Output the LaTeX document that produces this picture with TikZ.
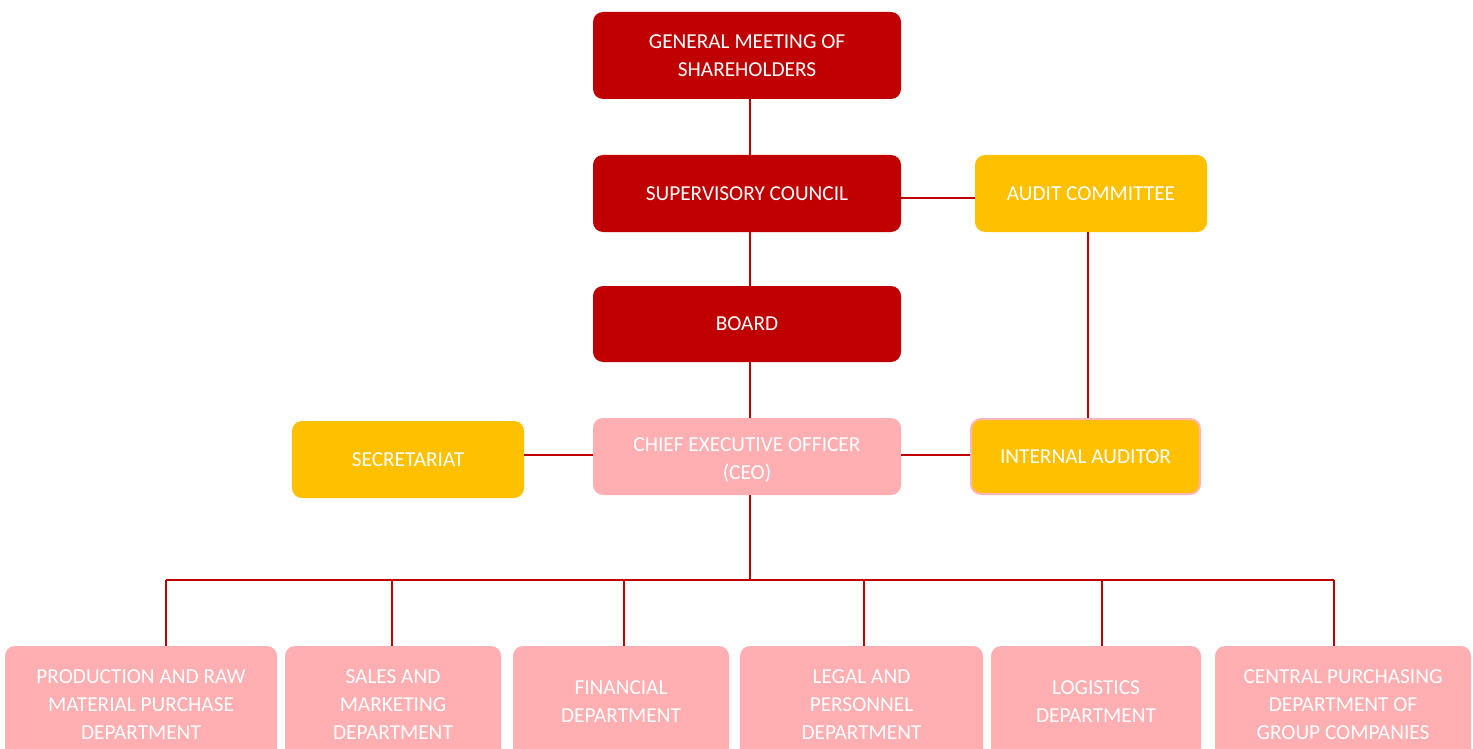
\documentclass[tikz,border=0pt]{standalone}
\usepackage{fontspec}
\setmainfont{Carlito}
\definecolor{cred}{HTML}{C00000}
\definecolor{cyel}{HTML}{FFC000}
\definecolor{cpink}{HTML}{FFAEB1}
\definecolor{cpinkb}{HTML}{FFB6BB}
\definecolor{cline}{HTML}{C00000}
\tikzset{
  txt/.style={inner sep=0pt, align=center, text=white,
    font=\fontsize{21.3}{28}\selectfont},
  box/.style={rounded corners=10pt, txt},
  redbox/.style={box, fill=cred},
  yelbox/.style={box, fill=cyel},
  pinkbox/.style={box, fill=cpink},
  conn/.style={draw=cline, line width=1.1pt},
}
\begin{document}
\begin{tikzpicture}[x=1pt,y=1pt]
\useasboundingbox (0,0) rectangle (1473,-749);
\clip (0,0) rectangle (1473,-749);
% top column
\node[redbox, minimum width=308pt, minimum height=87pt] (gms) at (747,-55.5) {GENERAL MEETING OF\\SHAREHOLDERS};
\node[redbox, minimum width=308pt, minimum height=77pt] (sup) at (747,-193.5) {SUPERVISORY COUNCIL};
\node[redbox, minimum width=308pt, minimum height=76pt] (board) at (747,-324) {BOARD};
\node[pinkbox, minimum width=308pt, minimum height=77pt] (ceo) at (747,-456.5) {};
\node[txt] (ceot) at ([yshift=-3.5pt]ceo.center) {CHIEF EXECUTIVE OFFICER\\(CEO)};
\node[yelbox, minimum width=232pt, minimum height=77pt] (audit) at (1091,-193.5) {AUDIT COMMITTEE};
\node[yelbox, minimum width=232pt, minimum height=77pt] (sec) at (408,-459.5) {SECRETARIAT};
\node[yelbox, draw=cpinkb, line width=2pt, minimum width=229pt, minimum height=75pt] (ia) at (1085.5,-456.5) {INTERNAL AUDITOR};
% bottom departments
\node[pinkbox, minimum width=272pt, minimum height=118pt] (prod) at (141,-705) {PRODUCTION AND RAW\\MATERIAL PURCHASE\\DEPARTMENT};
\node[pinkbox, minimum width=216pt, minimum height=118pt] (sales) at (393,-705) {SALES AND\\MARKETING\\DEPARTMENT};
\node[pinkbox, minimum width=216pt, minimum height=112pt] (fin) at (621,-702) {FINANCIAL\\DEPARTMENT};
\node[pinkbox, minimum width=243pt, minimum height=118pt] (legal) at (861.5,-705) {LEGAL AND\\PERSONNEL\\DEPARTMENT};
\node[pinkbox, minimum width=210pt, minimum height=112pt] (log) at (1096,-702) {LOGISTICS\\DEPARTMENT};
\node[pinkbox, minimum width=256pt, minimum height=118pt] (cent) at (1343,-705) {CENTRAL PURCHASING\\DEPARTMENT OF\\GROUP COMPANIES};
% connectors
\coordinate (spine) at (750,0);
\draw[conn] (gms.south -| spine) -- (sup.north -| spine);
\draw[conn] (sup.south -| spine) -- (board.north -| spine);
\draw[conn] (board.south -| spine) -- (ceo.north -| spine);
\coordinate (sa) at (0,-198);
\draw[conn] (sup.east |- sa) -- (audit.west |- sa);
\coordinate (av) at (1088,0);
\draw[conn] (audit.south -| av) -- (ia.north -| av);
\coordinate (ch) at (0,-455);
\draw[conn] (ceo.west |- ch) -- (sec.east |- ch);
\draw[conn] (ceo.east |- ch) -- (ia.west |- ch);
\coordinate (bus) at (750,-580);
\draw[conn] (ceo.south -| spine) -- (bus);
\coordinate (b1) at (166,-580);
\coordinate (b2) at (392,-580);
\coordinate (b3) at (624,-580);
\coordinate (b4) at (864,-580);
\coordinate (b5) at (1102,-580);
\coordinate (b6) at (1334,-580);
\draw[conn] (b1) -- (b6);
\draw[conn] (b1) -- (b1 |- prod.north);
\draw[conn] (b2) -- (b2 |- sales.north);
\draw[conn] (b3) -- (b3 |- fin.north);
\draw[conn] (b4) -- (b4 |- legal.north);
\draw[conn] (b5) -- (b5 |- log.north);
\draw[conn] (b6) -- (b6 |- cent.north);
\end{tikzpicture}
\end{document}
